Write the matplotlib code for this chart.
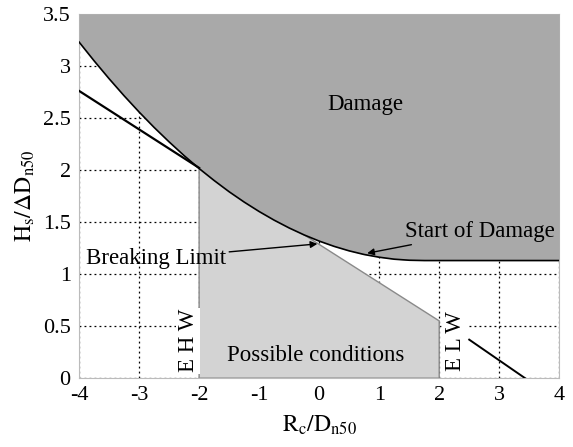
import matplotlib.pyplot as plt

plt.rcParams.update({
    "font.family": "Liberation Serif",
    "mathtext.fontset": "stix",
    "font.size": 16,
    "axes.unicode_minus": False,
})

# start of damage curve
damage_x = [-4, -3.75, -3.5, -3.25, -3, -2.75, -2.5, -2.25, -2, -1.75, -1.5, -1.25,
            -1, -0.75, -0.5, -0.25, 0, 0.25, 0.5, 0.75, 1, 1.25, 1.5, 1.75, 2, 3, 4]
damage_y = [3.229, 3.049, 2.877, 2.713, 2.557, 2.409, 2.270, 2.138, 2.014, 1.899, 1.791, 1.692,
            1.601, 1.518, 1.443, 1.376, 1.317, 1.266, 1.223, 1.188, 1.162, 1.143, 1.133, 1.13,
            1.13, 1.13, 1.13]

# breaking limit
break_x = [-4, -2]
break_y = [2.76, 2.02]
possible_x = [-2, -2, 2, 2]
possible_y = [0, 2.02, 0.55, 0]
elw_x = [2.5, 3.43]
elw_y = [0.37, 0]

fig = plt.figure(figsize=(5.73, 4.47), dpi=100)
ax = fig.add_axes([0.138, 0.154, 0.838, 0.815])

ax.set_xlim(-4, 4)
ax.set_ylim(0, 3.5)
ax.set_xticks(range(-4, 5))
ax.set_yticks([0, 0.5, 1, 1.5, 2, 2.5, 3, 3.5])
ax.set_yticklabels(["0", "0.5", "1", "1.5", "2", "2.5", "3", "3.5"])
ax.grid(True, color="black", linestyle=(0, (1.5, 2.5)), linewidth=0.9, zorder=0)
ax.set_axisbelow(True)
ax.tick_params(length=0, pad=6, labelsize=16)
for s in ax.spines.values():
    s.set_color("#bbbbbb")
    s.set_linewidth(0.8)

ax.fill(possible_x, possible_y, facecolor="#d3d3d3", edgecolor="#8a8a8a", linewidth=1, zorder=2)
ax.fill_between(damage_x, damage_y, 3.5, color="#a9a9a9", linewidth=0, zorder=3)
ax.plot(damage_x, damage_y, color="black", linewidth=1.2, zorder=4)
ax.plot(break_x, break_y, color="black", linewidth=1.6, zorder=4)
ax.plot(elw_x, elw_y, color="black", linewidth=1.4, zorder=4)

ax.text(0.77, 2.63, "Damage", ha="center", va="center", fontsize=16.5, zorder=5)
ax.text(-0.05, 0.22, "Possible conditions", ha="center", va="center", fontsize=16.5, zorder=5)
ax.annotate("Start of Damage", xy=(0.8, 1.2), xytext=(1.43, 1.41),
            ha="left", va="center", fontsize=16.5, zorder=5,
            arrowprops=dict(arrowstyle="-|>", color="black", lw=1, shrinkA=0, shrinkB=0,
                            mutation_scale=10))
ax.annotate("Breaking Limit", xy=(-0.03, 1.29), xytext=(-3.88, 1.15),
            ha="left", va="center", fontsize=16.5, zorder=5,
            arrowprops=dict(arrowstyle="-|>", color="black", lw=1, shrinkA=0, shrinkB=0,
                            mutation_scale=10))
ax.text(-2.18, 0.36, "E H W", rotation=90, ha="center", va="center", fontsize=16.5, zorder=5,
        bbox=dict(facecolor="white", edgecolor="none", pad=1))
ax.text(2.27, 0.36, "E L W", rotation=90, ha="center", va="center", fontsize=16.5, zorder=5,
        bbox=dict(facecolor="white", edgecolor="none", pad=1))

ax.set_xlabel(r"$\mathrm{R}_{\mathrm{c}}/\mathrm{D}_{\mathrm{n50}}$", fontsize=17, labelpad=6)
ax.set_ylabel(r"$\mathrm{H}_{\mathrm{s}}/\Delta\mathrm{D}_{\mathrm{n50}}$", fontsize=17, labelpad=4)

fig.savefig("out.png", dpi=100)
